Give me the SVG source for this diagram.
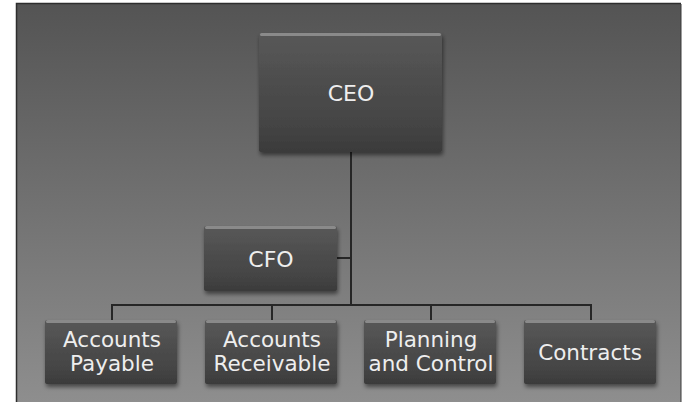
<svg xmlns="http://www.w3.org/2000/svg" width="683" height="402" viewBox="0 0 683 402">
<defs>
<linearGradient id="bg" x1="0" y1="0" x2="0" y2="1">
<stop offset="0" stop-color="#545454"/>
<stop offset="1" stop-color="#8e8e8e"/>
</linearGradient>
<linearGradient id="box" x1="0" y1="0" x2="0" y2="1">
<stop offset="0" stop-color="#585858"/>
<stop offset="0.85" stop-color="#424242"/>
<stop offset="1" stop-color="#3a3a3a"/>
</linearGradient>
<filter id="sh" x="-10%" y="-10%" width="125%" height="130%">
<feGaussianBlur in="SourceAlpha" stdDeviation="2"/>
<feOffset dx="1" dy="3" result="b"/>
<feComponentTransfer><feFuncA type="linear" slope="0.5"/></feComponentTransfer>
<feMerge><feMergeNode/><feMergeNode in="SourceGraphic"/></feMerge>
</filter>
</defs>
<style>
.b{fill:url(#box);filter:url(#sh)}
.hl{fill:#8a8a8a}
.t{font-family:"DejaVu Sans",Verdana,sans-serif;font-size:21.5px;fill:#eeeeee;text-anchor:middle}
.big{font-size:22px}
.c{stroke:#262626;stroke-width:2;fill:none}
</style>
<rect x="0" y="0" width="683" height="402" fill="#ffffff"/>
<rect x="17" y="4" width="664" height="398" fill="url(#bg)"/>
<path d="M16.5 402 V3.5 H681" fill="none" stroke="#2e2e2e" stroke-width="1.5"/>
<line x1="681" y1="4" x2="681" y2="402" stroke="#3a3a3a" stroke-width="1"/>
<g id="connectors">
<path class="c" d="M351 152 V305"/>
<path class="c" d="M337 258 H351"/>
<path class="c" d="M112 320 V305 H591 V320"/>
<path class="c" d="M272 305 V320"/>
<path class="c" d="M431 305 V320"/>
</g>
<g id="ceo">
<rect class="b" x="259" y="33" width="183" height="119" rx="2"/>
<rect class="hl" x="260" y="33" width="181" height="3" rx="1.5"/>
<text class="t big" x="351" y="101">CEO</text>
</g>
<g id="cfo">
<rect class="b" x="204" y="226" width="133" height="65" rx="2"/>
<rect class="hl" x="205" y="226" width="131" height="3" rx="1.5"/>
<text class="t big" x="271" y="267">CFO</text>
</g>
<g id="ap">
<rect class="b" x="45" y="320" width="132" height="64" rx="2"/>
<rect class="hl" x="46" y="320" width="130" height="3" rx="1.5"/>
<text class="t" x="112" y="347">Accounts</text>
<text class="t" x="112" y="371">Payable</text>
</g>
<g id="ar">
<rect class="b" x="205" y="320" width="132" height="64" rx="2"/>
<rect class="hl" x="206" y="320" width="130" height="3" rx="1.5"/>
<text class="t" x="272" y="347">Accounts</text>
<text class="t" x="272" y="371">Receivable</text>
</g>
<g id="pc">
<rect class="b" x="364" y="320" width="132" height="64" rx="2"/>
<rect class="hl" x="365" y="320" width="130" height="3" rx="1.5"/>
<text class="t" x="431" y="347">Planning</text>
<text class="t" x="431" y="371">and Control</text>
</g>
<g id="contracts">
<rect class="b" x="524" y="320" width="132" height="64" rx="2"/>
<rect class="hl" x="525" y="320" width="130" height="3" rx="1.5"/>
<text class="t" x="590" y="360">Contracts</text>
</g>
</svg>
